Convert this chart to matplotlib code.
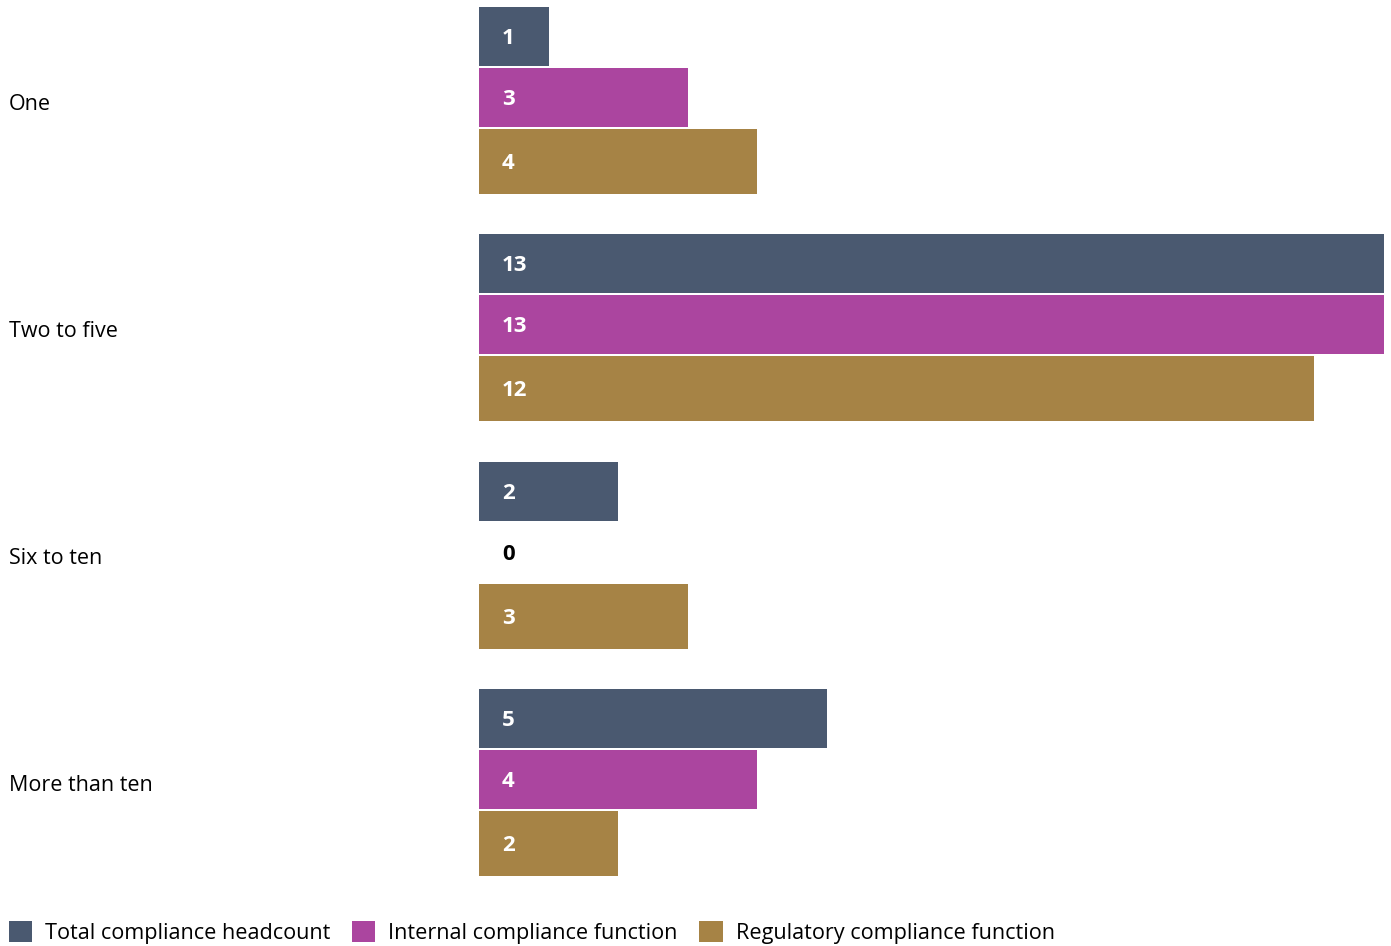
import matplotlib.pyplot as plt
from matplotlib.patches import Patch
from matplotlib.transforms import blended_transform_factory, offset_copy
import numpy as np

plt.rcParams["font.family"] = ["Open Sans", "DejaVu Sans"]

categories = ["One", "Two to five", "Six to ten", "More than ten"]
series = ["Total compliance headcount", "Internal compliance function", "Regulatory compliance function"]
total = [1, 13, 2, 5]
internal = [3, 13, 0, 4]
regulatory = [4, 12, 3, 2]
values = [total, internal, regulatory]

colors = ["#4a5970", "#ab459f", "#a68345"]

W, H = 1391, 946
fig = plt.figure(figsize=(W / 100, H / 100), dpi=100)

# layout in pixels: category spacing and bar slots within a group
step = 227.3
first_center = 102
bar_tops = [-95, -34, 27]
bar_heights = [59, 59, 65]

ax_top, ax_bot = 0, 900
ax = fig.add_axes([479 / W, 1 - ax_bot / H, 905 / W, (ax_bot - ax_top) / H])
ax.set_xlim(0, 13)
ax.set_ylim((ax_bot - first_center) / step, (ax_top - first_center) / step)
ax.axis("off")

y = np.arange(len(categories))
for i, (vals, col) in enumerate(zip(values, colors)):
    top = y + bar_tops[i] / step
    h = bar_heights[i] / step
    ax.barh(top + h / 2, vals, height=h, color=col, edgecolor="none")
    for yy, v in zip(top + h / 2, vals):
        ax.annotate(str(v), (0, yy), xytext=(23 * 0.72, -1.5), textcoords="offset points",
                    ha="left", va="center", fontsize=16, fontweight="bold",
                    color="white" if v > 0 else "black")

trans = offset_copy(blended_transform_factory(fig.transFigure, ax.transData),
                    fig=fig, y=-1.5, units="points")
for yy, cat in zip(y, categories):
    ax.text(9 / W, yy, cat, transform=trans, ha="left", va="center", fontsize=15.5)

handles = [Patch(facecolor=c, edgecolor="none") for c in colors]
fig.legend(handles, series, loc="lower left", bbox_to_anchor=(9 / W, 2 / H), ncol=3,
           frameon=False, fontsize=15.6, handlelength=1.07, handleheight=1.07,
           handletextpad=0.6, columnspacing=1.0, borderpad=0, borderaxespad=0)

plt.savefig("out.png", dpi=100)
plt.close()
